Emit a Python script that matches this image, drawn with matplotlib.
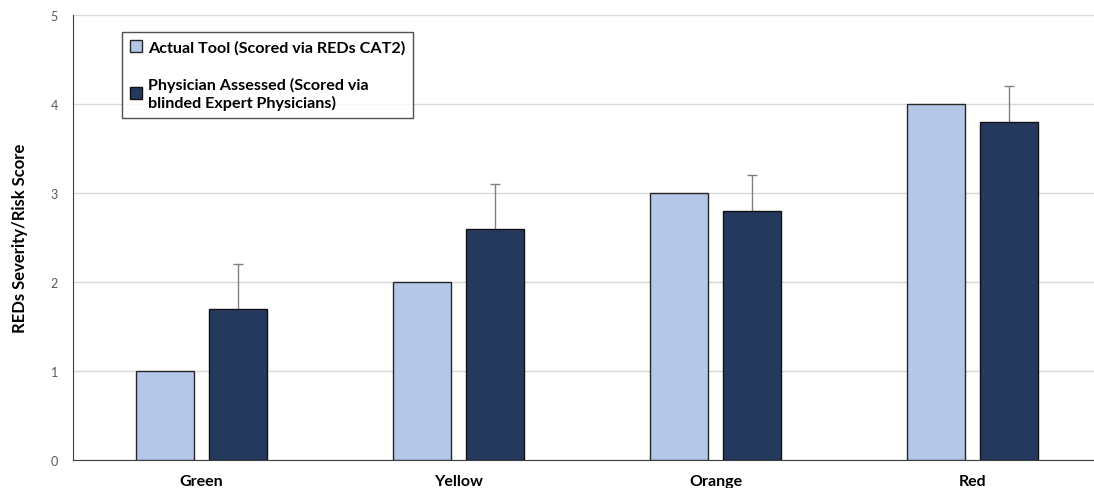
import matplotlib.pyplot as plt
import numpy as np

# data
categories = ['Green', 'Yellow', 'Orange', 'Red']
actual_tool = [1, 2, 3, 4]
physician = [1.7, 2.6, 2.8, 3.8]
physician_err = [0.5, 0.5, 0.4, 0.4]

light = '#B4C7E7'
dark = '#25395F'

plt.rcParams['font.family'] = ['Lato', 'DejaVu Sans']

fig = plt.figure(figsize=(10.94, 4.89), dpi=100)
ax = fig.add_axes([73/1094, 1 - 461/489, 1 - 73/1094, 445/489])

x = np.arange(len(categories))
w = 0.222
off = 0.142
ax.bar(x - off, actual_tool, w, color=light, edgecolor='#262626', linewidth=1.0,
       label='Actual Tool (Scored via REDs CAT2)', zorder=3)
ax.bar(x + off, physician, w, color=dark, edgecolor='#111111', linewidth=1.0,
       label='Physician Assessed (Scored via\nblinded Expert Physicians)', zorder=3)
eb = ax.errorbar(x + off, physician, yerr=[np.zeros(4), physician_err], fmt='none',
                 ecolor='#808080', elinewidth=1.0, capsize=3.5, capthick=1.0, zorder=2)
# hide the lower caps (zero-length side)
eb[1][0].set_visible(False)

ax.set_ylim(0, 5)
ax.set_xlim(-0.5, -0.5 + (1094 - 73) / 257)
ax.set_yticks(range(6))
ax.set_xticks(x)
ax.set_xticklabels(categories, fontsize=11.5, fontweight='bold')
ax.tick_params(axis='y', length=0, labelsize=9, labelcolor='#595959', pad=11)
ax.tick_params(axis='x', length=0, pad=10)
ax.grid(axis='y', color='#D9D9D9', linewidth=1.0, zorder=0)
ax.set_axisbelow(True)
for s in ['top', 'right']:
    ax.spines[s].set_visible(False)
ax.spines['left'].set_color('#404040')
ax.spines['bottom'].set_color('#404040')
ax.set_ylabel('REDs Severity/Risk Score', fontsize=12, fontweight='bold', labelpad=16)

leg = ax.legend(loc='upper left', bbox_to_anchor=((122 - 73) / 1021, 1 - 17 / 445),
                prop={'weight': 'bold', 'size': 11.6}, frameon=True,
                fancybox=False, edgecolor='#262626', handlelength=0.75,
                handleheight=0.75, handletextpad=0.35, labelspacing=1.4,
                borderpad=0.5, borderaxespad=0)
leg.get_frame().set_linewidth(1.0)

fig.savefig('out.png', dpi=100)
